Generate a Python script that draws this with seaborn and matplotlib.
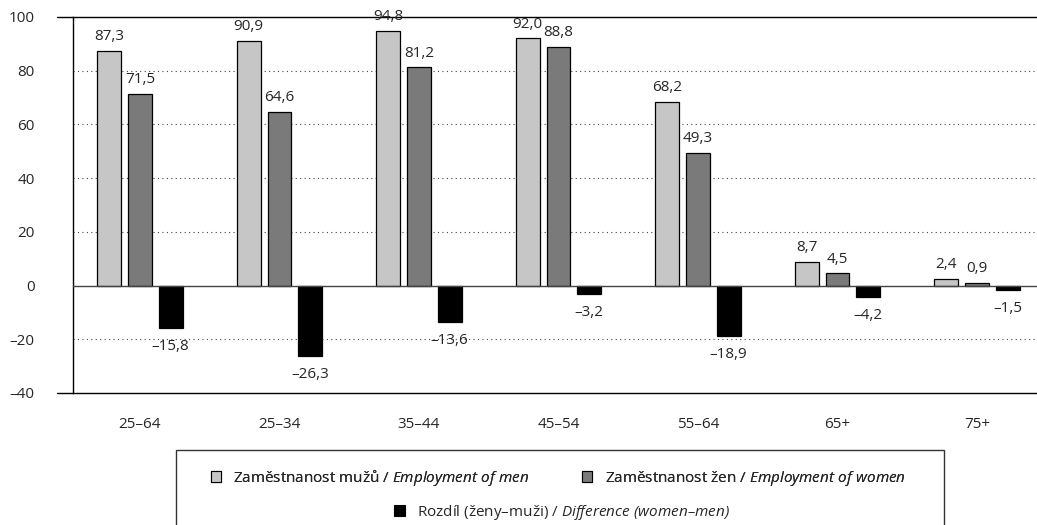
import matplotlib
matplotlib.use("Agg")
import matplotlib.pyplot as plt
from matplotlib.patches import Patch, Rectangle
import pandas as pd
import seaborn as sns

# data
age_groups = ["25–64", "25–34", "35–44", "45–54", "55–64", "65+", "75+"]
men = [87.3, 90.9, 94.8, 92.0, 68.2, 8.7, 2.4]
women = [71.5, 64.6, 81.2, 88.8, 49.3, 4.5, 0.9]
diff = [-15.8, -26.3, -13.6, -3.2, -18.9, -4.2, -1.5]

series_names = ["men", "women", "diff"]
series_colors = ["#c6c6c6", "#7a7a7a", "#000000"]
legend_labels = [
    r"Zaměstnanost mužů / $Employment\ of\ men$",
    r"Zaměstnanost žen / $Employment\ of\ women$",
    r"Rozdíl (ženy–muži) / $Difference\ (women–men)$",
]

sns.set_style("white")
plt.rcParams["font.family"] = ["Open Sans", "DejaVu Sans"]
# everything inside $...$ is italic, incl. brackets and dashes
plt.rcParams["mathtext.fontset"] = "custom"
plt.rcParams["mathtext.rm"] = "Open Sans:italic"
plt.rcParams["mathtext.it"] = "Open Sans:italic"

df = pd.DataFrame({
    "age": age_groups * 3,
    "value": men + women + diff,
    "series": ["men"] * 7 + ["women"] * 7 + ["diff"] * 7,
})

fig = plt.figure(figsize=(10.37, 5.25), dpi=100)
ax = fig.add_axes([73 / 1037, 132 / 525, 1 - 73 / 1037, 376 / 525])

sns.barplot(data=df, x="age", y="value", hue="series", hue_order=series_names,
            palette=series_colors, width=0.66, gap=0.22, edgecolor="black",
            linewidth=0.9, saturation=1, legend=False, ax=ax)

ax.set_ylim(-40, 100)
ax.set_xlim(-0.48, 6.43)
ax.set_yticks(range(-40, 101, 20))
ax.set_xlabel("")
ax.set_ylabel("")

for y in [-20, 20, 40, 60, 80]:
    ax.axhline(y, color="#444444", linestyle=(0, (1, 3)), linewidth=0.8, zorder=0)
ax.axhline(0, color="#444444", linewidth=1.0, zorder=3)

for side in ["top", "bottom", "left"]:
    ax.spines[side].set_visible(True)
    ax.spines[side].set_color("black")
    ax.spines[side].set_linewidth(1.0)
ax.spines["right"].set_visible(False)

ax.tick_params(axis="y", length=11.5, width=1.0, direction="out", pad=16,
               labelsize=11, color="black")
ax.tick_params(axis="x", length=0, pad=17, labelsize=11)
ax.set_yticklabels([str(t).replace("-", "–") for t in range(-40, 101, 20)])

# top/bottom lines reach out past the spine like the tick marks
for yv in [100, -40]:
    ax.plot([-0.48 - 16 / 139.5, -0.48], [yv, yv], color="black", lw=1.0,
            clip_on=False)

for cont, vals in zip(ax.containers, [men, women, diff]):
    labels = [f"{v:.1f}".replace(".", ",").replace("-", "–") for v in vals]
    pad = 5 if vals[0] > 0 else 8
    ax.bar_label(cont, labels=labels, padding=pad, fontsize=11)

# legend box, its lower edge runs off the figure
box = Rectangle((176 / 1037, -0.1), (944 - 176) / 1037, 0.1 + 75 / 525,
                transform=fig.transFigure, facecolor="white", edgecolor="#333333",
                linewidth=1.0, clip_on=False)
fig.add_artist(box)

handles = [Patch(facecolor=c, edgecolor="black", linewidth=0.8) for c in series_colors]
leg1 = fig.legend(handles[:2], legend_labels[:2], ncol=2, loc="center",
                  bbox_to_anchor=(558 / 1037, 47 / 525), frameon=False,
                  fontsize=11, handlelength=0.7, handleheight=0.7,
                  handletextpad=0.8, columnspacing=3.4, borderpad=0)
leg2 = fig.legend(handles[2:], legend_labels[2:], ncol=1, loc="center",
                  bbox_to_anchor=(562 / 1037, 13 / 525), frameon=False,
                  fontsize=11, handlelength=0.7, handleheight=0.7,
                  handletextpad=0.8, borderpad=0)
fig.add_artist(leg1)

fig.savefig("out.png", dpi=100)
